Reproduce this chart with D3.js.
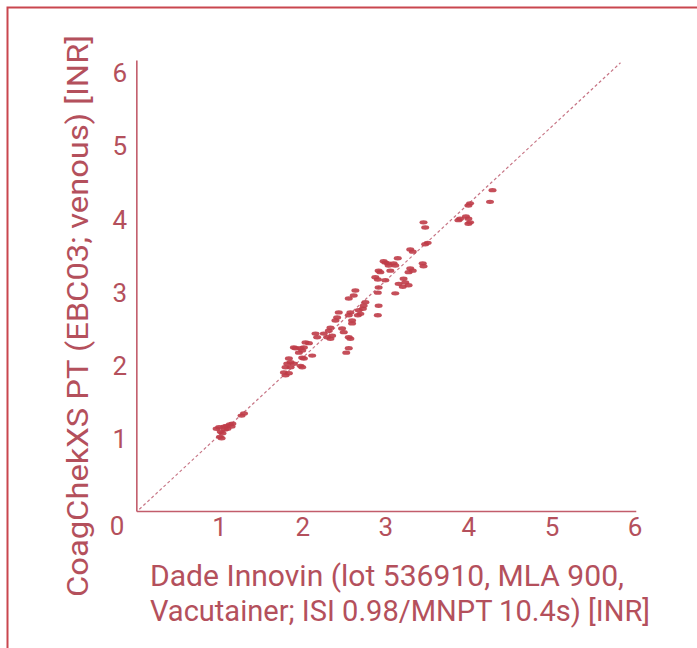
<!DOCTYPE html>
<html>
<head>
<meta charset="utf-8">
<script src="https://cdn.jsdelivr.net/npm/d3@7"></script>
<style>
  body { margin: 0; background: #fff; }
  svg { display: block; }
</style>
</head>
<body>
<svg id="chart"></svg>
<script>
// Dade Innovin INR (x) vs CoagChekXS INR (y)
var xVals = [0.97, 1.01, 1.03, 1.02, 1.06, 1.09, 1.13, 1.16, 1.10, 1.07, 1.15, 1.00, 1.04, 1.27, 1.30,
    1.78, 1.80, 1.84, 1.82, 1.80, 1.86, 1.90, 1.84, 1.86, 1.98, 2.00, 2.00, 2.02, 2.12, 1.90, 1.92, 1.98, 2.00, 1.96, 2.02,
    2.04, 2.08, 2.16, 2.18, 2.26, 2.30, 2.34, 2.34, 2.32, 2.36, 2.48, 2.50, 2.56, 2.58, 2.56, 2.53, 2.60,
    2.44, 2.42, 2.40, 2.58, 2.56, 2.60, 2.73, 2.68, 2.70, 2.67, 2.76, 2.74, 2.56, 2.64, 2.62,
    2.92, 2.91, 2.92, 2.91, 2.88, 2.91, 3.00, 2.94, 2.92, 3.00, 3.04, 3.06, 2.98, 3.03, 3.10, 3.12, 3.15,
    3.16, 3.21, 3.12, 3.22, 3.24, 3.28, 3.30, 3.28, 3.33, 3.30, 3.33, 3.45, 3.46, 3.51, 3.48, 3.46, 3.48,
    3.90, 3.88, 3.97, 4.00, 4.02, 4.00, 4.02, 4.00, 4.29, 4.26];
var yVals = [1.13, 1.02, 1.00, 1.09, 1.16, 1.17, 1.19, 1.20, 1.13, 1.12, 1.16, 1.15, 1.07, 1.31, 1.34,
    1.90, 1.86, 1.89, 2.02, 1.97, 1.97, 2.02, 2.09, 2.04, 1.99, 1.97, 2.10, 2.09, 2.13, 2.24, 2.23, 2.23, 2.20, 2.17, 2.24,
    2.31, 2.30, 2.43, 2.38, 2.43, 2.38, 2.36, 2.51, 2.47, 2.40, 2.50, 2.45, 2.38, 2.36, 2.23, 2.17, 2.57,
    2.72, 2.65, 2.61, 2.72, 2.68, 2.61, 2.77, 2.75, 2.70, 2.68, 2.86, 2.81, 2.91, 3.02, 2.95,
    2.81, 2.68, 3.06, 2.99, 3.20, 3.17, 3.16, 3.27, 3.29, 3.40, 3.36, 3.29, 3.42, 3.39, 3.39, 3.36, 3.46,
    3.11, 3.07, 2.98, 3.18, 3.13, 3.09, 3.32, 3.27, 3.29, 3.58, 3.55, 3.39, 3.35, 3.67, 3.65, 3.95, 3.88,
    4.00, 3.98, 4.03, 4.00, 3.95, 3.93, 4.21, 4.18, 4.39, 4.23];
var xTicks = [1, 2, 3, 4, 5, 6];
var yTicks = [1, 2, 3, 4, 5, 6];
// dashed reference line ends (data units)
var refX = [0.04, 5.83];
var refY = [0.03, 6.13];

var xTitle = ["Dade Innovin (lot 536910, MLA 900,", "Vacutainer; ISI 0.98/MNPT 10.4s) [INR]"];
var yTitle = "CoagChekXS PT (EBC03; venous) [INR]";

var width = 697, height = 648;
var textColor = "#b4505c", frameColor = "#c9464f", axisColor = "#c25d6b", dotColor = "#bf3c48";
var font = "Roboto, sans-serif";

var svg = d3.select("#chart").attr("width", width).attr("height", height);

var x = d3.scaleLinear().domain([0, 6]).range([136, 634.6]);
var y = d3.scaleLinear().domain([0, 6]).range([511.5, 72.3]);

// frame (top and left only)
svg.append("path")
    .attr("d", "M7.5," + height + "V7.5H" + width)
    .attr("fill", "none")
    .attr("stroke", frameColor)
    .attr("stroke-width", 2);

// axis lines
svg.append("line")
    .attr("x1", x(0.01)).attr("x2", x(0.01))
    .attr("y1", y(0)).attr("y2", y(6.16))
    .attr("stroke", axisColor).attr("stroke-width", 1.6);
svg.append("line")
    .attr("x1", x(0.01)).attr("x2", x(6.02))
    .attr("y1", y(0)).attr("y2", y(0))
    .attr("stroke", axisColor).attr("stroke-width", 1.6);

// ticks
var xAxis = svg.append("g")
    .attr("transform", "translate(0," + y(0) + ")")
    .call(d3.axisBottom(x).tickValues(xTicks).tickSize(0).tickPadding(6).tickFormat(d3.format("d")));
var yAxis = svg.append("g")
    .attr("transform", "translate(" + x(0) + ",0)")
    .call(d3.axisLeft(y).tickValues(yTicks).tickSize(0).tickPadding(9).tickFormat(d3.format("d")));

[xAxis, yAxis].forEach(function(g) {
    g.select(".domain").remove();
    g.selectAll("text")
        .attr("fill", textColor)
        .style("font-family", font)
        .style("font-size", "26px");
});
yAxis.selectAll("text").attr("dy", "0.36em");

svg.append("text")
    .attr("x", 117).attr("y", 535)
    .attr("text-anchor", "middle")
    .attr("fill", textColor)
    .style("font-family", font)
    .style("font-size", "26px")
    .text("0");

// reference line
svg.append("line")
    .attr("x1", x(refX[0])).attr("y1", y(refY[0]))
    .attr("x2", x(refX[1])).attr("y2", y(refY[1]))
    .attr("stroke", "#c77585")
    .attr("stroke-width", 1.2)
    .attr("stroke-dasharray", "3,2.5");

// points
svg.append("g").selectAll("ellipse")
    .data(d3.range(xVals.length))
    .enter().append("ellipse")
    .attr("cx", function(i) { return x(xVals[i]); })
    .attr("cy", function(i) { return y(yVals[i]); })
    .attr("rx", 4)
    .attr("ry", 2.2)
    .attr("fill", dotColor)
    .attr("fill-opacity", 0.9);

// titles
svg.selectAll(".xtitle")
    .data(xTitle)
    .enter().append("text")
    .attr("class", "xtitle")
    .attr("x", function(d, i) { return i === 0 ? 387 : 400; })
    .attr("y", function(d, i) { return 586 + i * 35; })
    .attr("text-anchor", "middle")
    .attr("textLength", function(d, i) { return i === 0 ? 474 : 500; })
    .attr("lengthAdjust", "spacingAndGlyphs")
    .attr("fill", textColor)
    .style("font-family", font)
    .style("font-size", "29px")
    .text(function(d) { return d; });

svg.append("text")
    .attr("transform", "translate(88,316) rotate(-90)")
    .attr("text-anchor", "middle")
    .attr("textLength", 562)
    .attr("lengthAdjust", "spacingAndGlyphs")
    .attr("fill", textColor)
    .style("font-family", font)
    .style("font-size", "29px")
    .text(yTitle);
</script>
</body>
</html>
